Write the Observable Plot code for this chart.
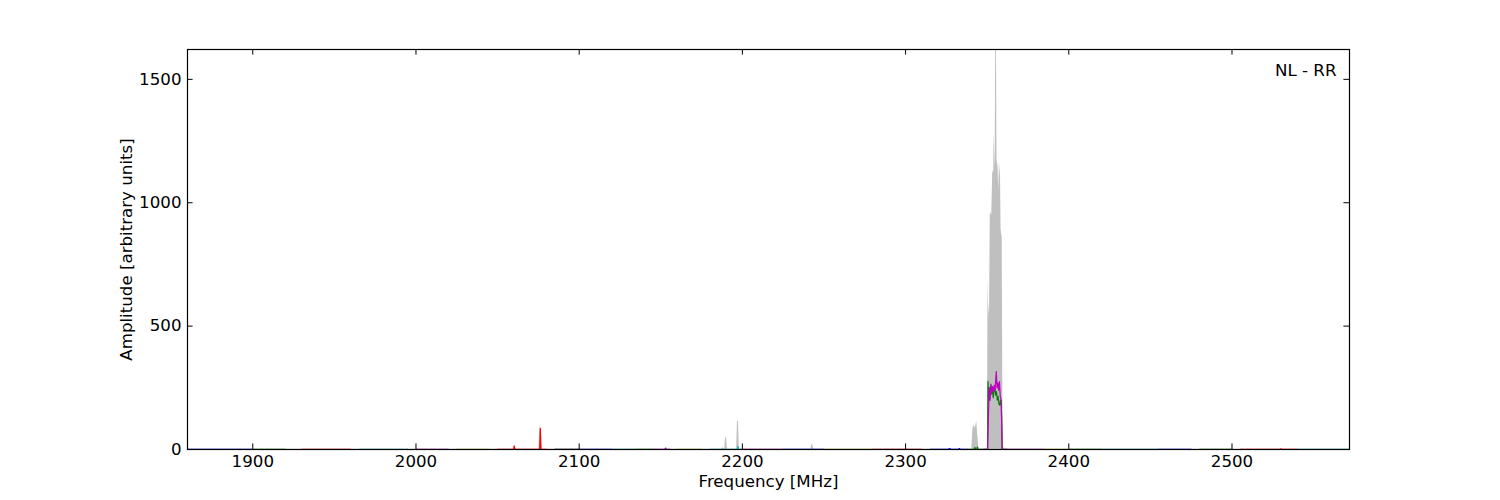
<!DOCTYPE html>
<html>
<head>
<meta charset="utf-8">
<script src="https://cdn.jsdelivr.net/npm/d3@7"></script>
<script src="https://cdn.jsdelivr.net/npm/@observablehq/plot@0.6"></script>
<style>
  html, body { margin: 0; padding: 0; background: #fff; }
  #chart { width: 1500px; height: 500px; }
</style>
</head>
<body>
<div id="chart"></div>
<script>
// ---------- data ----------
const xTicks = [1900, 2000, 2100, 2200, 2300, 2400, 2500];
const yTicks = [0, 500, 1000, 1500];
const xDomain = [1860, 2572];
const yDomain = [0, 1621];
const panelLabel = "NL - RR";
const xLabel = "Frequency [MHz]";
const yLabel = "Amplitude [arbitrary units]";

// grey (max-hold) spectrum
const grayFreq = [1860, 2075.4, 2075.9, 2076.5, 2077.0, 2152.3, 2153.0, 2153.7, 2187.3, 2188.0, 2188.7,
  2189.2, 2189.7, 2190.3, 2190.8, 2196.5, 2197.0, 2197.6, 2198.1, 2242.0, 2242.5, 2243.1, 2243.6,
  2326.0, 2327.0, 2328.0, 2340.6, 2341.2, 2341.8, 2342.4, 2343.0, 2343.6, 2344.2, 2345.0,
  2350.2, 2350.5, 2350.9, 2351.5, 2351.9, 2352.8, 2353.4, 2354.0, 2354.2, 2354.9, 2355.2,
  2355.7, 2356.0, 2356.6, 2357.1, 2357.5, 2358.2, 2358.5, 2359.2, 2359.6, 2360.0, 2360.6, 2572];
const grayAmp = [1, 1, 92, 90, 1, 1, 6, 1, 1, 8, 1,
  1, 50, 48, 1, 1, 115, 112, 1, 1, 20, 19, 1,
  1, 5, 1, 1, 80, 100, 85, 95, 115, 60, 1,
  1, 705, 540, 600, 960, 950, 1130, 1120, 1280, 1130, 1621,
  1621, 1170, 1150, 1050, 1165, 1100, 890, 860, 200, 10, 1, 1];

// coloured per-band spectra (matplotlib classic colour letters)
const segFrom  = [1860, 1880, 1900, 1930, 1965, 2000, 2025, 2050, 2085, 2100, 2120, 2135, 2145, 2160, 2180, 2200, 2225, 2250, 2280, 2315, 2338, 2362, 2385, 2400, 2420, 2455, 2480, 2505, 2540];
const segTo    = [1880, 1900, 1920, 1960, 1995, 2020, 2045, 2080, 2100, 2120, 2135, 2145, 2156, 2175, 2200, 2225, 2250, 2280, 2310, 2338, 2348, 2385, 2400, 2420, 2455, 2475, 2500, 2540, 2572];
const segColor = ["b", "b", "g", "r", "c", "m", "y", "r", "k", "b", "c", "g", "m", "y", "c", "m", "b", "y", "r", "b", "g", "m", "y", "g", "c", "b", "g", "r", "c"];
const segLevel = [1, 0.8, 1, 1, 0.8, 1, 0.8, 0.8, 0.8, 1, 0.8, 1, 1, 1, 0.8, 1, 0.8, 1, 1, 1, 0.8, 1, 0.8, 1, 0.8, 1, 0.8, 1, 1];

// narrow spikes on the coloured spectra
const spikeFreq = [2060.2, 2076.2, 2153.0, 2197.3, 2327.0, 2333.0, 2342.5, 2344.0, 2530.0];
const spikeAmp  = [15, 85, 6, 12, 4, 4, 8, 10, 3];
const spikeSeg  = [7, 7, 12, 14, 19, 19, 20, 20, 27];

// green and magenta spectra across the main interference peak
const greenFreq = [2348, 2350.2, 2350.5, 2350.9, 2351.3, 2351.7, 2352.2, 2352.7, 2353.2, 2353.7, 2354.2, 2354.7, 2355.2, 2355.7, 2356.2, 2356.7, 2357.2, 2357.7, 2358.2, 2358.7, 2359.1, 2362];
const greenAmp  = [1, 1, 276, 200, 250, 215, 260, 225, 245, 210, 240, 250, 220, 235, 200, 215, 185, 180, 200, 175, 1, 1];
const magentaFreq = [2348, 2350.3, 2350.8, 2351.3, 2351.8, 2352.3, 2352.8, 2353.3, 2353.8, 2354.3, 2354.8, 2355.3, 2355.6, 2356.0, 2356.5, 2357.0, 2357.5, 2358.0, 2358.6, 2359.2, 2362];
const magentaAmp  = [1, 1, 150, 250, 200, 265, 225, 255, 235, 260, 240, 290, 316, 250, 270, 240, 275, 215, 200, 1, 1];

const colorMap = { b: "#0000ff", g: "#008000", r: "#ff0000", c: "#00bfbf", m: "#bf00bf", y: "#bfbf00", k: "#000000" };

// ---------- build tables ----------
const grayData = grayFreq.map((f, i) => ({ f, a: grayAmp[i] }));

const lineData = [];
segFrom.forEach((from, i) => {
  const pts = [{ f: from, a: segLevel[i] }];
  spikeFreq.forEach((sf, j) => {
    if (spikeSeg[j] === i) {
      pts.push({ f: sf - 0.4, a: segLevel[i] }, { f: sf, a: spikeAmp[j] }, { f: sf + 0.4, a: segLevel[i] });
    }
  });
  pts.push({ f: segTo[i], a: segLevel[i] });
  pts.sort((p, q) => p.f - q.f);
  pts.forEach(p => lineData.push({ seg: "s" + i, color: colorMap[segColor[i]], f: p.f, a: p.a }));
});
greenFreq.forEach((f, i) => lineData.push({ seg: "green", color: colorMap.g, f, a: greenAmp[i] }));
magentaFreq.forEach((f, i) => lineData.push({ seg: "magenta", color: colorMap.m, f, a: magentaAmp[i] }));

// ---------- plot ----------
const W = 1500, H = 500;
const mL = 187, mR = 151, mT = 49, mB = 51;
const plotW = W - mL - mR, plotH = H - mT - mB;
const tickLen = 5.6;
const font = "DejaVu Sans";
const fs = 16.67;
const fmt = d3.format("d");

const chart = Plot.plot({
  width: W,
  height: H,
  marginLeft: mL,
  marginRight: mR,
  marginTop: mT,
  marginBottom: mB,
  style: { fontFamily: font, fontSize: fs + "px", background: "#fff", color: "#000" },
  x: { domain: xDomain, ticks: xTicks },
  y: { domain: yDomain, ticks: yTicks },
  color: { type: "identity" },
  marks: [
    Plot.areaY(grayData, { x: "f", y: "a", fill: "#bfbfbf", curve: "linear" }),
    Plot.line(lineData, { x: "f", y: "a", z: "seg", stroke: "color", strokeWidth: 1.2, curve: "linear" }),
    Plot.frame({ stroke: "#000", strokeWidth: 1.2 }),
    // inward ticks on all four sides
    Plot.ruleX(xTicks, { x: d => d, stroke: "#000", insetTop: plotH - tickLen }),
    Plot.ruleX(xTicks, { x: d => d, stroke: "#000", insetBottom: plotH - tickLen }),
    Plot.ruleY(yTicks, { y: d => d, stroke: "#000", insetRight: plotW - tickLen }),
    Plot.ruleY(yTicks, { y: d => d, stroke: "#000", insetLeft: plotW - tickLen }),
    Plot.axisX(xTicks, { tickSize: 0, tickPadding: 6, tickFormat: fmt, label: null, fontSize: fs, fontFamily: font, fill: "#000" }),
    Plot.axisY(yTicks, { tickSize: 0, tickPadding: 6, tickFormat: fmt, label: null, fontSize: fs, fontFamily: font, fill: "#000" }),
    Plot.text([xLabel], { frameAnchor: "bottom", dy: 32, lineAnchor: "middle", textAnchor: "middle", fontSize: fs, fontFamily: font, fill: "#000" }),
    Plot.text([yLabel], { frameAnchor: "left", dx: -61, rotate: -90, textAnchor: "middle", lineAnchor: "middle", fontSize: fs, fontFamily: font, fill: "#000" }),
    Plot.text([panelLabel], { frameAnchor: "top-right", dx: -13, dy: 21, textAnchor: "end", lineAnchor: "middle", fontSize: fs, fontFamily: font, fill: "#000" })
  ]
});
document.getElementById("chart").appendChild(chart);
</script>
</body>
</html>
